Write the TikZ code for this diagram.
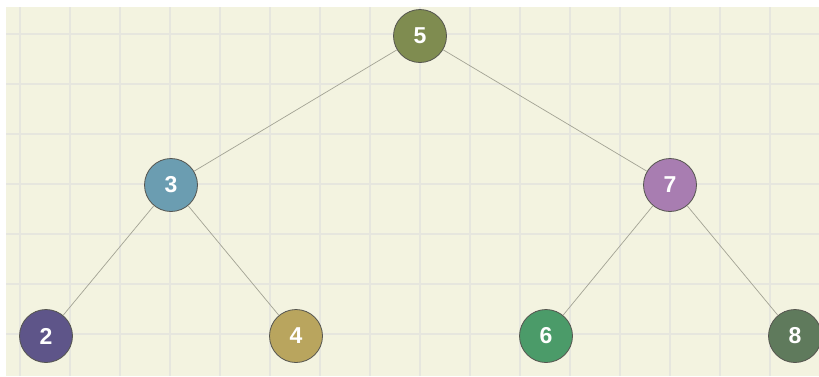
\documentclass[tikz,border=0pt]{standalone}
\usepackage{fontspec}
\setmainfont{Liberation Sans}
\usepackage{tikz}
\usetikzlibrary{positioning}
\usepackage{xcolor}

\definecolor{paper}{HTML}{F3F3E0}
\definecolor{gridln}{HTML}{E6E6DE}
\definecolor{edgeln}{HTML}{A3A394}
\definecolor{rimln}{HTML}{55554F}
\definecolor{nodeFive}{HTML}{7F8C50}
\definecolor{nodeThree}{HTML}{6B9DB1}
\definecolor{nodeSeven}{HTML}{A87DB1}
\definecolor{nodeTwo}{HTML}{5E5589}
\definecolor{nodeFour}{HTML}{B9A55E}
\definecolor{nodeSix}{HTML}{4B9B69}
\definecolor{nodeEight}{HTML}{5F7A5C}

\begin{document}
\begin{tikzpicture}[
    x=1pt, y=-1pt,
    font=\fontsize{23}{25}\selectfont\bfseries,
    key/.style={circle, draw=rimln, line width=0.8pt, minimum size=53pt,
                inner sep=0pt, text=white, fill=#1},
    link/.style={draw=edgeln, line width=0.7pt},
]

% ── Paper and grid ───────────────────────────────────────────
\useasboundingbox (0,0) rectangle (819,376);
\fill[white] (0,0) rectangle (819,376);
\fill[paper] (6,7) rectangle (819,376);
\foreach \gx in {20,70,...,770}
    \draw[gridln, line width=1.6pt] (\gx,7) -- (\gx,376);
\foreach \gy in {34,84,...,334}
    \draw[gridln, line width=1.6pt] (6,\gy) -- (819,\gy);

% ── Keys ─────────────────────────────────────────────────────
\node[key=nodeFive]  (k5) at (420,36)  {5};
\node[key=nodeThree] (k3) at (171,185) {3};
\node[key=nodeSeven] (k7) at (670,185) {7};
\node[key=nodeTwo]   (k2) at (46,336)  {2};
\node[key=nodeFour]  (k4) at (296,336) {4};
\node[key=nodeSix]   (k6) at (546,336) {6};
\node[key=nodeEight] (k8) at (795,336) {8};

% ── Links ────────────────────────────────────────────────────
\draw[link] (k5) -- (k3);
\draw[link] (k5) -- (k7);
\draw[link] (k3) -- (k2);
\draw[link] (k3) -- (k4);
\draw[link] (k7) -- (k6);
\draw[link] (k7) -- (k8);

\end{tikzpicture}
\end{document}
